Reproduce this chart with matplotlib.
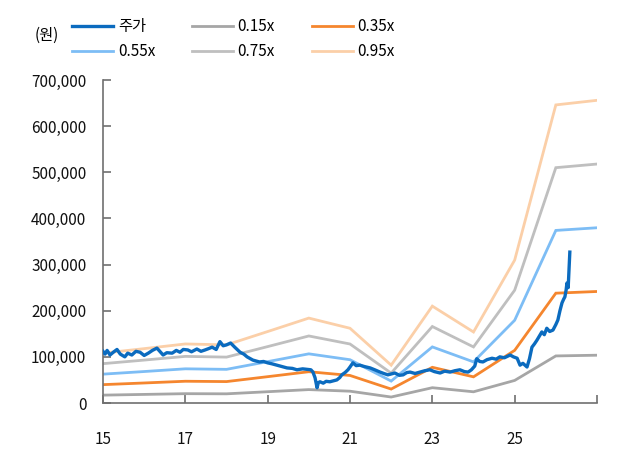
import numpy as np
import matplotlib.pyplot as plt
from matplotlib.ticker import FuncFormatter

plt.rcParams['font.family'] = ['Noto Sans CJK KR', 'DejaVu Sans']

# book value per share by year (band vertices), in won
years = [15, 16, 17, 18, 19, 20, 21, 22, 23, 24, 25, 26, 27]
bps = [113700, 124000, 134700, 132600, 163000, 193700, 170500, 86300,
       221000, 162000, 326000, 680000, 690500]
multiples = [0.15, 0.35, 0.55, 0.75, 0.95]
band_colors = ['#A6A6A6', '#F5862E', '#7DBDF5', '#BFBFBF', '#FBCFA8']

# share price (x in years since 2000, price in won)
px_t = [15.0, 15.05, 15.1, 15.17, 15.25, 15.34, 15.42, 15.53, 15.6, 15.7, 15.8, 15.9,
        16.0, 16.1, 16.2, 16.31, 16.4, 16.46, 16.55, 16.68, 16.78, 16.87, 16.95,
        17.06, 17.15, 17.28, 17.38, 17.48, 17.57, 17.65, 17.75, 17.84, 17.92, 18.0,
        18.1, 18.2, 18.33, 18.42, 18.5, 18.64, 18.8, 18.9, 19.0, 19.1, 19.22, 19.35,
        19.47, 19.6, 19.71, 19.85, 19.95, 20.05, 20.1, 20.15, 20.2, 20.23, 20.27,
        20.35, 20.42, 20.51, 20.6, 20.68, 20.75, 20.8, 20.88, 20.95, 21.0, 21.07,
        21.15, 21.24, 21.35, 21.49, 21.6, 21.73, 21.82, 21.92, 22.0, 22.09, 22.2,
        22.29, 22.38, 22.46, 22.58, 22.7, 22.82, 22.94, 23.05, 23.19, 23.3, 23.43,
        23.55, 23.67, 23.78, 23.87, 23.95, 24.03, 24.08, 24.15, 24.23, 24.33, 24.45,
        24.55, 24.64, 24.75, 24.89, 24.97, 25.06, 25.13, 25.2, 25.3, 25.36, 25.42,
        25.48, 25.54, 25.6, 25.66, 25.72, 25.78, 25.85, 25.93, 26.0, 26.05, 26.1,
        26.15, 26.19, 26.22, 26.25, 26.27, 26.3, 26.32, 26.34]
px_v = [112000, 106000, 114000, 104000, 110000, 116000, 106000, 100000, 108000, 104000,
        112000, 110000, 103000, 108000, 114000, 119000, 110000, 104000, 109000, 108000,
        114000, 110000, 116000, 115000, 111000, 117000, 112000, 115000, 118000, 121000,
        116000, 133000, 124000, 126000, 130000, 121000, 110000, 106000, 100000, 93000,
        89000, 90000, 87000, 85000, 82000, 79000, 76000, 75000, 72000, 74000, 73000,
        72000, 67000, 55000, 33000, 44000, 46000, 43000, 47000, 46000, 48000, 50000,
        55000, 61000, 66000, 72000, 78000, 87000, 81000, 82000, 79000, 76000, 72000,
        67000, 64000, 61000, 63000, 65000, 60000, 61000, 66000, 67000, 64000, 67000,
        70000, 72000, 68000, 65000, 69000, 67000, 70000, 72000, 68000, 67000, 72000,
        80000, 96000, 90000, 89000, 94000, 97000, 95000, 100000, 98000, 104000, 100000,
        97000, 82000, 86000, 78000, 96000, 121000, 128000, 136000, 145000, 154000,
        148000, 162000, 155000, 158000, 170000, 180000, 200000, 217000, 225000, 230000,
        245000, 260000, 250000, 290000, 327000]

fig, ax = plt.subplots(figsize=(6.37, 4.53), dpi=100)
fig.subplots_adjust(left=103/637, right=597/637, top=1-80/453, bottom=1-403/453)

handles = {}
for m, c in zip(multiples, band_colors):
    vals = [m * b for b in bps]
    handles[f'{m:.2f}x'], = ax.plot(years, vals, color=c, lw=2.0, solid_joinstyle='miter')
handles['주가'], = ax.plot(px_t, px_v, color='#0B6BBF', lw=2.4, zorder=5)

ax.set_xlim(15, 27)
ax.set_ylim(0, 700000)
ax.set_xticks([15, 17, 19, 21, 23, 25, 27])
ax.set_xticklabels(['15', '17', '19', '21', '23', '25', ''])
ax.set_yticks(np.arange(0, 700001, 100000))
ax.yaxis.set_major_formatter(FuncFormatter(lambda v, p: f'{int(v):,}'))

for s in ['top', 'right']:
    ax.spines[s].set_visible(False)
for s in ['left', 'bottom']:
    ax.spines[s].set_color('#707070')
    ax.spines[s].set_linewidth(1.2)
ax.tick_params(axis='both', direction='in', color='#707070', width=1.2, length=6,
               labelsize=11, labelcolor='#111111')
ax.tick_params(axis='x', pad=20)
ax.tick_params(axis='y', pad=12)

order = ['주가', '0.55x', '0.15x', '0.75x', '0.35x', '0.95x']
ax.legend([handles[k] for k in order], order, ncol=3, frameon=False,
          loc='upper left', bbox_to_anchor=(72/637, 1-18/453), bbox_transform=fig.transFigure,
          fontsize=11, handlelength=2.7, handletextpad=0.3, columnspacing=2.4,
          labelspacing=0.55, borderaxespad=0, borderpad=0)
fig.text(47/637, 1-35/453, '(원)', ha='center', va='center', fontsize=11)

fig.savefig('out.png', dpi=100)
